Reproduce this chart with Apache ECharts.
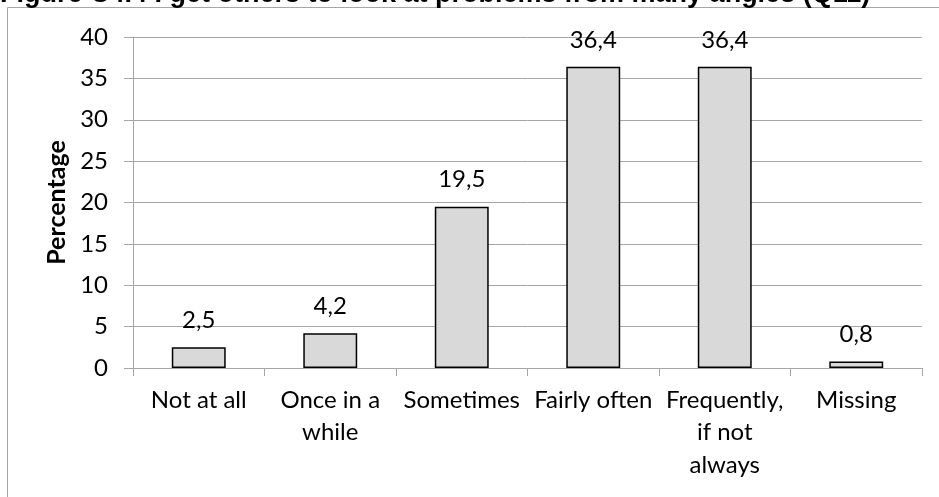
<!DOCTYPE html>
<html>
<head>
<meta charset="utf-8">
<script src="https://cdn.jsdelivr.net/npm/echarts@6/dist/echarts.min.js"></script>
<style>html,body{margin:0;padding:0;background:#fff}#c{width:939px;height:497px}</style>
</head>
<body>
<div id="c"></div>
<script>
const titleText = 'Figure C4.4 I get others to look at problems from many angles (Q11)';
const categories = ['Not at all', 'Once in a\nwhile', 'Sometimes', 'Fairly often', 'Frequently,\nif not\nalways', 'Missing'];
const percentages = [2.5, 4.2, 19.5, 36.4, 36.4, 0.8];
const yTicks = [0, 5, 10, 15, 20, 25, 30, 35, 40];
const yAxisTitle = 'Percentage';

const chart = echarts.init(document.getElementById('c'));
const font = 'Lato, "Open Sans", sans-serif';
chart.setOption({
  animation: false,
  backgroundColor: '#fff',
  grid: { left: 133, top: 37, right: 17, bottom: 129, containLabel: false },
  graphic: [
    { type: 'rect', shape: { x: 7.5, y: 7.5, width: 1000, height: 600 }, style: { fill: 'none', stroke: '#a6a6a6', lineWidth: 1 }, z: 0 },
    { type: 'text', x: 0, y: -5, style: { text: titleText, font: 'bold 27px "Liberation Sans", Arial, sans-serif', fill: '#000', textVerticalAlign: 'middle', verticalAlign: 'middle' }, z: 10 }
  ],
  xAxis: {
    type: 'category',
    data: categories,
    axisLine: { lineStyle: { color: '#a6a6a6', width: 1 } },
    axisTick: { show: true, length: 8, alignWithLabel: false, lineStyle: { color: '#a6a6a6' } },
    axisLabel: { interval: 0, color: '#000', fontFamily: font, fontSize: 24, margin: 16, lineHeight: 32.5 }
  },
  yAxis: {
    type: 'value',
    min: yTicks[0],
    max: yTicks[yTicks.length - 1],
    interval: 5,
    name: yAxisTitle,
    nameLocation: 'middle',
    nameGap: 57,
    nameRotate: 90,
    nameTextStyle: { color: '#000', fontFamily: font, fontSize: 25, fontWeight: 'bold' },
    axisLine: { show: true, lineStyle: { color: '#a6a6a6', width: 1 } },
    axisTick: { show: true, length: 9, lineStyle: { color: '#a6a6a6' } },
    axisLabel: { color: '#000', fontFamily: font, fontSize: 24, margin: 25 },
    splitLine: { show: true, lineStyle: { color: '#a6a6a6', width: 1 } }
  },
  series: [{
    type: 'bar',
    data: percentages,
    barWidth: '41%',
    itemStyle: { color: '#d9d9d9', borderColor: '#000', borderWidth: 1.5 },
    label: {
      show: true, position: 'top', distance: 15, color: '#000',
      fontFamily: font, fontSize: 24,
      formatter: p => String(p.value).replace('.', ',')
    }
  }]
});
</script>
</body>
</html>
